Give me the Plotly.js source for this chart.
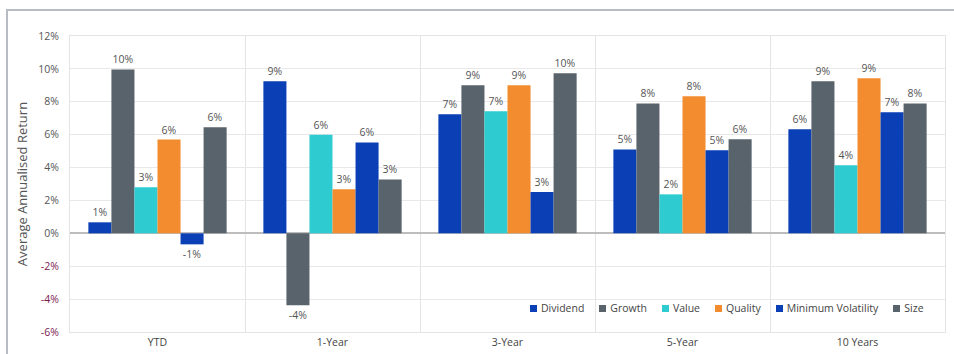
<!DOCTYPE html>
<html><head><meta charset="utf-8">
<script src="https://cdn.plot.ly/plotly-3.0.1.min.js"></script>
<style>html,body{margin:0;padding:0;background:#fff;}#wrap{position:relative;width:954px;height:354px;overflow:hidden;}
#chart{width:954px;height:354px;}
#frame{position:absolute;left:6px;top:9px;width:960px;height:360px;border-top:2px solid #b7bcc4;border-left:2px solid #b7bcc4;pointer-events:none;}
#legend{position:absolute;left:530px;top:299px;height:18px;display:flex;align-items:center;font-family:"Open Sans",sans-serif;font-size:10.5px;color:#444;white-space:nowrap;}
#legend .item{display:flex;align-items:center;margin-right:15px;}
#legend .sw{width:7px;height:7px;margin-right:4px;}</style>
</head><body><div id="wrap"><div id="chart"></div><div id="frame"></div><div id="legend"></div></div>
<script>
const categories = ["YTD", "1-Year", "3-Year", "5-Year", "10 Years"];
const seriesNames = ["Dividend", "Growth", "Value", "Quality", "Minimum Volatility", "Size"];
const dividend = [0.67, 9.25, 7.24, 5.1, 6.33];
const growth = [9.97, -4.38, 9.0, 7.9, 9.25];
const value = [2.8, 6.0, 7.42, 2.37, 4.14];
const quality = [5.7, 2.68, 9.0, 8.33, 9.43];
const minVol = [-0.67, 5.53, 2.52, 5.05, 7.36];
const size = [6.45, 3.28, 9.73, 5.72, 7.9];
const tickValues = [-6, -4, -2, 0, 2, 4, 6, 8, 10, 12];

const colors = ["#0a3fb6", "#59636b", "#2ecbd1", "#f28c2f", "#0a3fb6", "#59636b"];
const seriesData = [dividend, growth, value, quality, minVol, size];
const labelFont = {family: "Open Sans, sans-serif", size: 10.5, color: "#555"};

const traces = seriesData.map((d, i) => ({
  type: "bar", name: seriesNames[i], x: categories, y: d,
  marker: {color: colors[i]},
  text: d.map(v => Math.round(v) + "%"),
  textposition: "outside", cliponaxis: false,
  textfont: labelFont, outsidetextfont: labelFont
}));

const tickText = tickValues.map(v => v < 0 ? '<span style="color:#7b2150">' + v + '%</span>' : v + '%');

const layout = {
  width: 954, height: 354,
  margin: {l: 70, r: 9, t: 36, b: 22},
  paper_bgcolor: "#fff", plot_bgcolor: "#fff",
  barmode: "group", bargap: 0.21, bargroupgap: 0,
  showlegend: false,
  font: {family: "Open Sans, sans-serif", color: "#555"},
  xaxis: {type: "category", tickson: "boundaries", showgrid: true, gridcolor: "#e4e4e4", gridwidth: 1,
    ticks: "outside", ticklen: 9, tickcolor: "rgba(0,0,0,0)", showline: true, linecolor: "#e4e4e4", mirror: true,
    tickfont: {size: 10.5, color: "#444"}},
  yaxis: {range: [-6, 12], tickvals: tickValues, ticktext: tickText, showgrid: true, gridcolor: "#e8e8e8",
    zeroline: true, zerolinecolor: "#bdbdbd", zerolinewidth: 2, showline: true, linecolor: "#e4e4e4", mirror: true,
    tickfont: {size: 10.5, color: "#555"}, ticks: "outside", ticklen: 8, tickcolor: "rgba(0,0,0,0)", automargin: false,
    title: {text: "Average Annualised Return", font: {size: 13, color: "#555"}, standoff: 7}}
};

const legendEl = document.getElementById("legend");
seriesNames.forEach((name, i) => {
  const item = document.createElement("div");
  item.className = "item";
  const sw = document.createElement("span");
  sw.className = "sw";
  sw.style.background = colors[i];
  const label = document.createElement("span");
  label.textContent = name;
  item.appendChild(sw);
  item.appendChild(label);
  legendEl.appendChild(item);
});

Plotly.newPlot("chart", traces, layout, {displayModeBar: false, staticPlot: true});
</script></body></html>
